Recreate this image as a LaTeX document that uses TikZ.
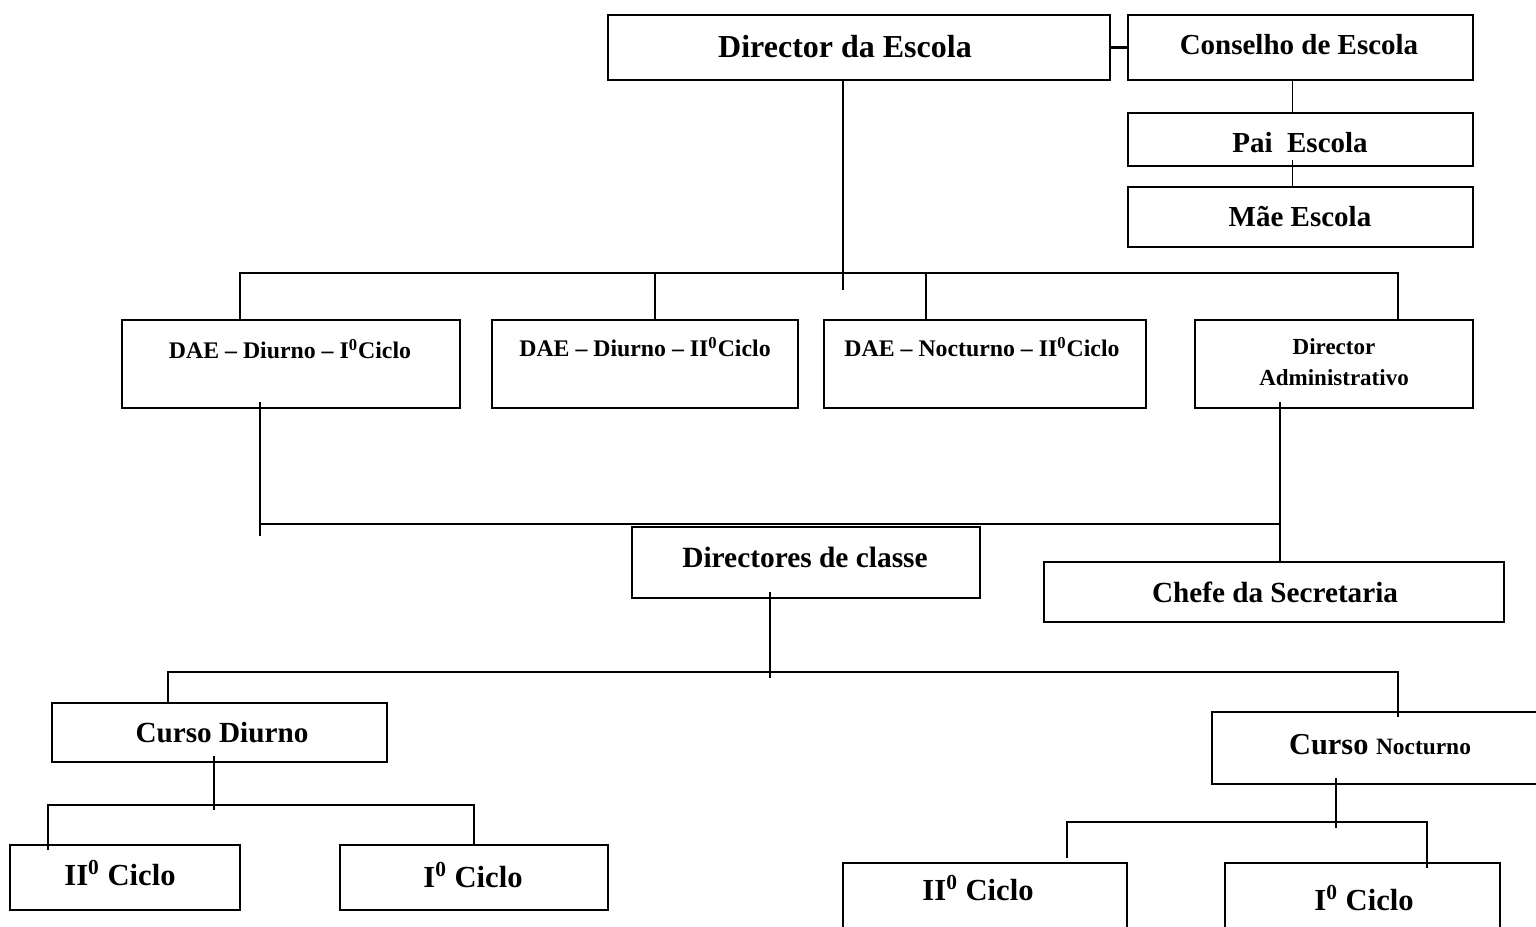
\documentclass[tikz,border=0pt]{standalone}
\usepackage{fontspec}
\setmainfont{Liberation Serif}
\usetikzlibrary{calc}
\tikzset{
  box/.style 2 args={draw, line width=1.2pt, inner sep=0pt, outer sep=0pt,
     minimum width=#1*0.5pt, minimum height=#2*0.5pt},
  lbl/.style={inner sep=0pt, font=\bfseries, align=center},
  conn/.style={line width=0.9pt},
}
\newcommand\sz[1]{\fontsize{#1}{#1}\selectfont}
\begin{document}
\begin{tikzpicture}[x=0.5pt,y=-0.5pt]
\useasboundingbox (0,0) rectangle (1536,926);
\clip (0,0) rectangle (1536,926);
% boxes
\node[box={502}{65}] (dir) at (859,47.5) {};
\node[box={345}{65}] (cons) at (1300.5,47.5) {};
\node[box={345}{53}] (pai) at (1300.5,139.5) {};
\node[box={345}{60}] (mae) at (1300.5,217) {};
\node[box={338}{88}] (dae1) at (291,364) {};
\node[box={306}{88}] (dae2) at (645,364) {};
\node[box={322}{88}] (dae3) at (985,364) {};
\node[box={278}{88}] (adm) at (1334,364) {};
\node[box={348}{71}] (dcl) at (806,562.5) {};
\node[box={460}{60}] (chefe) at (1274,592) {};
\node[box={335}{59}] (cd) at (219.5,732.5) {};
\node[box={333}{72}] (cn) at (1378.5,748) {};
\node[box={230}{65}] (c2l) at (125,877.5) {};
\node[box={268}{65}] (c1l) at (474,877.5) {};
\node[box={284}{87}] (c2r) at (985,906.5) {};
\node[box={275}{87}] (c1r) at (1362.5,906.5) {};
% labels
\node[lbl,font=\bfseries\sz{16}] (tdir) at (845,47) {Director da Escola};
\node[lbl,font=\bfseries\sz{14.5}] (tcons) at (1299,45) {Conselho de Escola};
\node[lbl,font=\bfseries\sz{14.5}] (tpai) at (1300,143) {Pai\ \ Escola};
\node[lbl,font=\bfseries\sz{14.5}] (tmae) at (1300,217) {Mãe Escola};
\node[lbl,font=\bfseries\sz{11.9}] (tdae1) at (290,349) {DAE – Diurno – I\textsuperscript{0}Ciclo};
\node[lbl,font=\bfseries\sz{11.9}] (tdae2) at (645,347) {DAE – Diurno – II\textsuperscript{0}Ciclo};
\node[lbl,font=\bfseries\sz{11.9}] (tdae3) at (982,347) {DAE – Nocturno – II\textsuperscript{0}Ciclo};
\node[lbl,font=\bfseries\sz{11.5}] (tadm1) at (1334,347) {Director};
\node[lbl,font=\bfseries\sz{11.5}] (tadm2) at (1334,378) {Administrativo};
\node[lbl,font=\bfseries\sz{14.7}] (tdcl) at (805,557) {Directores de classe};
\node[lbl,font=\bfseries\sz{14.6}] (tchefe) at (1275,592) {Chefe da Secretaria};
\node[lbl,font=\bfseries\sz{14.6}] (tcd) at (222,733) {Curso Diurno};
\node[lbl,font=\bfseries\sz{15.2}] (tcn) at (1380,745) {Curso {\sz{11.7}Nocturno}};
\node[lbl,font=\bfseries\sz{15.3}] (tc2l) at (120,873) {II\textsuperscript{0} Ciclo};
\node[lbl,font=\bfseries\sz{15.3}] (tc1l) at (473,875) {I\textsuperscript{0} Ciclo};
\node[lbl,font=\bfseries\sz{15.3}] (tc2r) at (978,888) {II\textsuperscript{0} Ciclo};
\node[lbl,font=\bfseries\sz{15.3}] (tc1r) at (1364,898) {I\textsuperscript{0} Ciclo};
% connector points
\coordinate (busA) at (843,273);
\coordinate (dirEnd) at (843,290);
\coordinate (busB) at (260,524);
\coordinate (busBend) at (260,536);
\coordinate (busC) at (770,672);
\coordinate (busCend) at (770,678);
\coordinate (busD) at (214,805);
\coordinate (busDend) at (214,810);
\coordinate (busE) at (1336,822);
\coordinate (busEend) at (1336,828);
% connectors
\draw[conn, line width=1.2pt] (dir.east) -- (cons.west);
\draw[conn] ([xshift=-4pt]cons.south) -- ([xshift=-4pt]pai.north);
\draw[conn] ($(pai.south)+(-8,-6)$) -- ([xshift=-4pt]mae.north);
\draw[conn] ($(dir.south)+(-16,0)$) -- (dirEnd);
\draw[conn] ($(dae1.north)+(-51,0)$) |- ($(adm.north)+(64,-47)$) -- ($(adm.north)+(64,0)$);
\draw[conn] ($(dae2.north)+(10,0)$) -- ($(dae2.north)+(10,-47)$);
\draw[conn] ($(dae3.north)+(-59,0)$) -- ($(dae3.north)+(-59,-47)$);
\draw[conn] ($(dae1.south)+(-31,-6)$) -- (busBend);
\draw[conn, line width=1.2pt] (busB) -- ($(adm.south)+(-54,116)$);
\draw[conn] ($(adm.south)+(-54,-6)$) -- ($(adm.south)+(-54,0)$) |- (chefe.north);
\draw[conn] ($(dcl.south)+(-36,-6)$) -- (busCend);
\draw[conn] ($(cd.north)+(-51.5,0)$) |- (busC) -| ($(cn.north)+(19.5,5)$);
\draw[conn] ($(cd.south)+(-5.5,-6)$) -- (busDend);
\draw[conn] ($(c2l.north)+(-77,5)$) |- (busD) -| (c1l.north);
\draw[conn] ($(cn.south)+(-42.5,-6)$) -- (busEend);
\draw[conn] ($(c2r.north)+(82,-5)$) |- (busE) -| ($(c1r.north)+(64.5,5)$);
\end{tikzpicture}
\end{document}
